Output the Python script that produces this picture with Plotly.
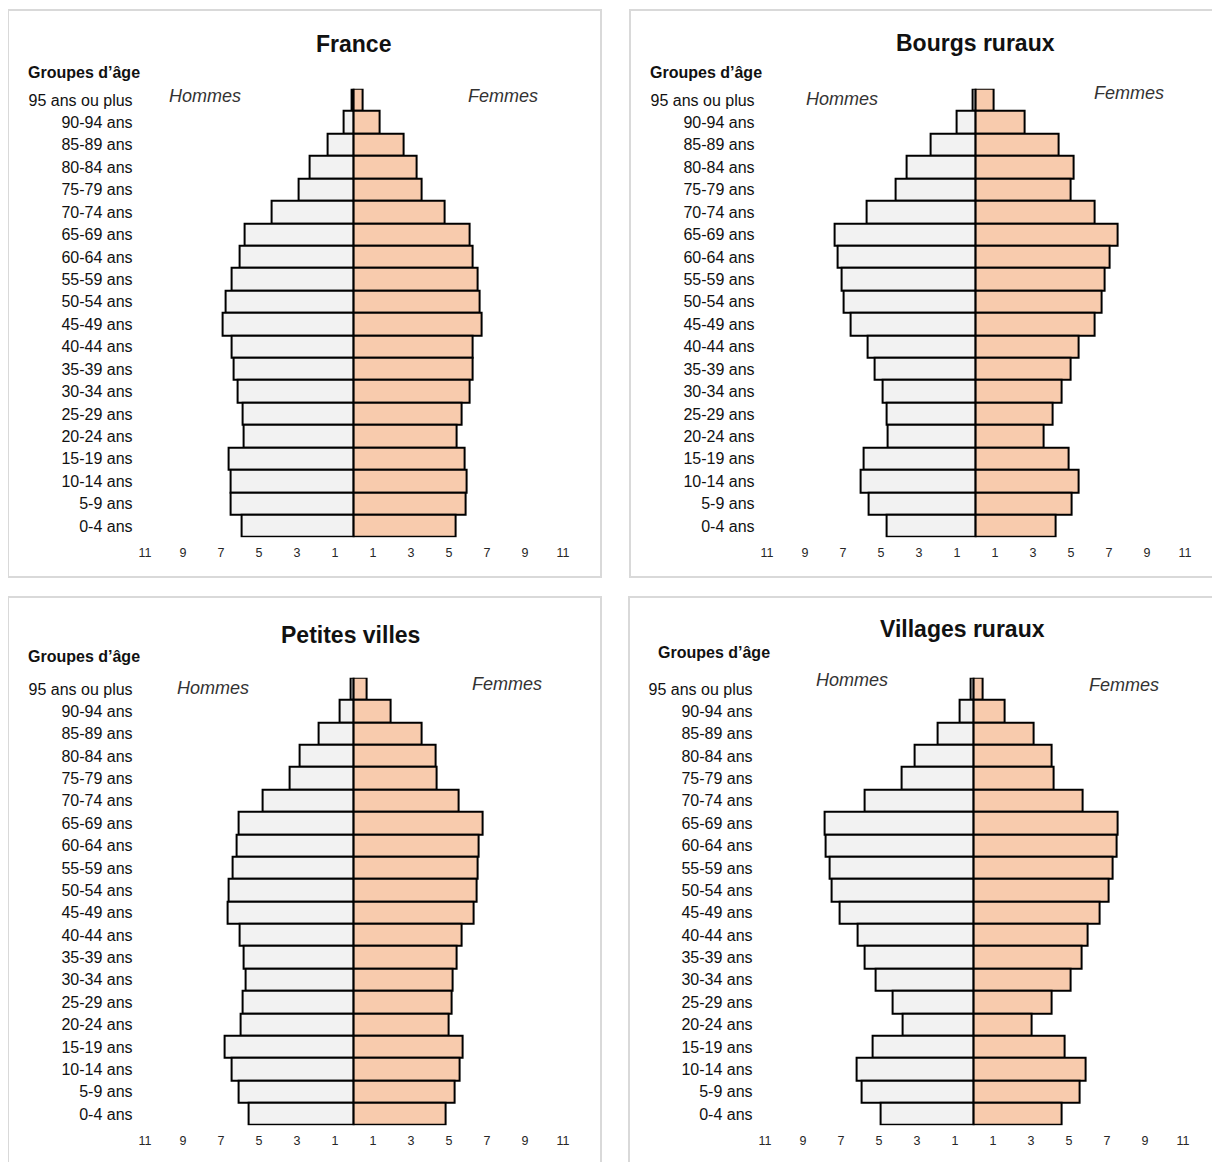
import plotly.graph_objects as go

ages = ["95 ans ou plus", "90-94 ans", "85-89 ans", "80-84 ans", "75-79 ans",
        "70-74 ans", "65-69 ans", "60-64 ans", "55-59 ans", "50-54 ans",
        "45-49 ans", "40-44 ans", "35-39 ans", "30-34 ans", "25-29 ans",
        "20-24 ans", "15-19 ans", "10-14 ans", "5-9 ans", "0-4 ans"]

france_hommes = [0.15, 0.56, 1.39, 2.35, 2.91, 4.33, 5.75, 6.02, 6.44, 6.77,
                 6.91, 6.46, 6.33, 6.14, 5.88, 5.81, 6.58, 6.51, 6.51, 5.89]
france_femmes = [0.46, 1.37, 2.60, 3.30, 3.56, 4.77, 6.07, 6.25, 6.51, 6.61,
                 6.70, 6.25, 6.25, 6.07, 5.67, 5.40, 5.84, 5.93, 5.86, 5.37]

bourgs_hommes = [0.19, 1.02, 2.37, 3.63, 4.25, 5.77, 7.44, 7.26, 7.05, 6.98,
                 6.61, 5.72, 5.33, 4.93, 4.70, 4.63, 5.91, 6.10, 5.67, 4.70]
bourgs_femmes = [0.91, 2.58, 4.37, 5.12, 5.00, 6.23, 7.47, 7.05, 6.79, 6.61,
                 6.23, 5.39, 5.00, 4.51, 4.04, 3.58, 4.89, 5.40, 5.04, 4.19]

petites_hommes = [0.20, 0.74, 1.84, 2.86, 3.37, 4.79, 6.09, 6.16, 6.40, 6.60,
                  6.67, 6.04, 5.82, 5.70, 5.88, 5.95, 6.79, 6.42, 6.09, 5.53]
petites_femmes = [0.67, 1.95, 3.58, 4.32, 4.37, 5.49, 6.77, 6.58, 6.51, 6.46,
                  6.32, 5.68, 5.40, 5.19, 5.14, 4.96, 5.70, 5.56, 5.28, 4.84]

villages_hommes = [0.17, 0.74, 1.93, 3.12, 3.82, 5.75, 7.86, 7.79, 7.61, 7.49,
                   7.05, 6.14, 5.75, 5.16, 4.26, 3.75, 5.33, 6.19, 5.91, 4.89]
villages_femmes = [0.44, 1.60, 3.12, 4.10, 4.21, 5.74, 7.58, 7.49, 7.30, 7.07,
                   6.63, 5.96, 5.68, 5.10, 4.10, 3.05, 4.79, 5.89, 5.58, 4.61]

titles = ["France", "Bourgs ruraux", "Petites villes", "Villages ruraux"]
tick_vals = [-11, -9, -7, -5, -3, -1, 1, 3, 5, 7, 9, 11]
tick_text = ["11", "9", "7", "5", "3", "1", "1", "3", "5", "7", "9", "11"]

W, H = 1220, 1162
OFF = 8  # page body margin
FONT = "Liberation Sans, Arial, sans-serif"
COL_H = "#f2f2f2"
COL_F = "#f8cbad"

def px(x):
    return (x - OFF) / W

def py(y):
    return 1 - (y - OFF) / H

panels = [
    dict(hom=france_hommes, fem=france_femmes, cx=354, y0=100, y1=526,
         title=(353, 44), grp=(84, 72), hommes=(205, 96), femmes=(503, 96)),
    dict(hom=bourgs_hommes, fem=bourgs_femmes, cx=976, y0=100, y1=526,
         title=(975, 43), grp=(706, 72), hommes=(842, 99), femmes=(1129, 93)),
    dict(hom=petites_hommes, fem=petites_femmes, cx=354, y0=689, y1=1114,
         title=(350, 635), grp=(84, 656), hommes=(213, 688), femmes=(507, 684)),
    dict(hom=villages_hommes, fem=villages_femmes, cx=974, y0=689, y1=1114,
         title=(962, 629), grp=(714, 652), hommes=(852, 680), femmes=(1124, 685)),
]

UNIT = 19.0
XMIN, XMAX = -11.6, 12.4

fig = go.Figure()
annotations = []
shapes = []
layout_axes = {}

for i, p in enumerate(panels):
    n = i + 1
    xa = "x" if n == 1 else f"x{n}"
    ya = "y" if n == 1 else f"y{n}"
    fig.add_trace(go.Bar(
        y=ages, x=[-v for v in p["hom"]], orientation="h", base=0,
        marker=dict(color=COL_H, line=dict(color="black", width=2)),
        xaxis=xa, yaxis=ya, showlegend=False, name="Hommes",
        hovertemplate="%{y}: %{customdata}<extra>Hommes</extra>",
        customdata=p["hom"]))
    fig.add_trace(go.Bar(
        y=ages, x=p["fem"], orientation="h", base=0,
        marker=dict(color=COL_F, line=dict(color="black", width=2)),
        xaxis=xa, yaxis=ya, showlegend=False, name="Femmes",
        hovertemplate="%{y}: %{x}<extra>Femmes</extra>"))

    band = (p["y1"] - p["y0"]) / (len(ages) - 1)
    top = p["y0"] - band / 2
    bot = p["y1"] + band / 2
    left = p["cx"] + XMIN * UNIT
    right = p["cx"] + XMAX * UNIT

    xkey = "xaxis" if n == 1 else f"xaxis{n}"
    ykey = "yaxis" if n == 1 else f"yaxis{n}"
    layout_axes[xkey] = dict(
        domain=[px(left), px(right)], range=[XMIN, XMAX], anchor=ya,
        tickmode="array", tickvals=tick_vals, ticktext=tick_text,
        showgrid=False, zeroline=False, showline=False,
        ticks="outside", ticklen=4, tickcolor="rgba(0,0,0,0)",
        tickfont=dict(family=FONT, size=12.5, color="#262626"))
    layout_axes[ykey] = dict(
        domain=[py(bot), py(top)], anchor=xa, type="category",
        autorange="reversed", showgrid=False, zeroline=False, showline=False,
        ticks="", ticklen=0,
        tickfont=dict(family=FONT, size=16, color="#111111"))

    annotations.append(dict(x=px(p["title"][0]), y=py(p["title"][1]), xref="paper", yref="paper",
                            text="<b>" + titles[i] + "</b>", showarrow=False,
                            font=dict(family=FONT, size=23, color="#111111"),
                            xanchor="center", yanchor="middle"))
    annotations.append(dict(x=px(p["grp"][0]), y=py(p["grp"][1]), xref="paper", yref="paper",
                            text="<b>Groupes d’âge</b>", showarrow=False,
                            font=dict(family=FONT, size=16, color="#111111"),
                            xanchor="center", yanchor="middle"))
    annotations.append(dict(x=px(p["hommes"][0]), y=py(p["hommes"][1]), xref="paper", yref="paper",
                            text="<i>Hommes</i>", showarrow=False,
                            font=dict(family=FONT, size=18, color="#333333"),
                            xanchor="center", yanchor="middle"))
    annotations.append(dict(x=px(p["femmes"][0]), y=py(p["femmes"][1]), xref="paper", yref="paper",
                            text="<i>Femmes</i>", showarrow=False,
                            font=dict(family=FONT, size=18, color="#333333"),
                            xanchor="center", yanchor="middle"))

# panel frames (page pixel coordinates)
frames = [(8, 10, 601, 577), (630, 10, 1218, 577), (8, 597, 601, 1172), (629, 597, 1218, 1172)]
for (x0, y0, x1, y1) in frames:
    shapes.append(dict(type="rect", xref="paper", yref="paper",
                       x0=px(x0), x1=px(x1), y0=py(y1), y1=py(y0),
                       line=dict(color="#d9d9d9", width=2), fillcolor="rgba(0,0,0,0)",
                       layer="below"))

fig.update_layout(
    width=W, height=H, margin=dict(l=0, r=0, t=0, b=0),
    paper_bgcolor="white", plot_bgcolor="white",
    barmode="overlay", bargap=0,
    annotations=annotations, shapes=shapes,
    font=dict(family=FONT),
    **layout_axes)

fig.write_html("out.html")
